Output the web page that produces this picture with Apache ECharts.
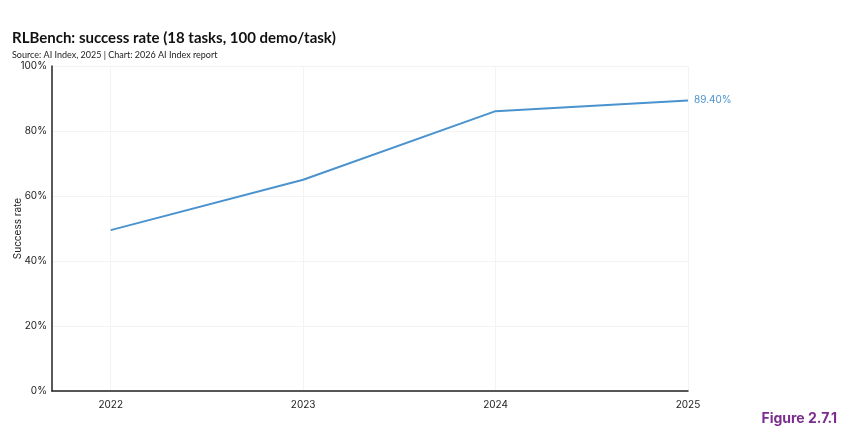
<!DOCTYPE html>
<html>
<head>
<meta charset="utf-8">
<script src="https://cdn.jsdelivr.net/npm/echarts@6/dist/echarts.min.js"></script>
<style>
  html, body { margin: 0; padding: 0; background: #fff; }
  #chart { width: 850px; height: 440px; }
</style>
</head>
<body>
<div id="chart"></div>
<script>
// data
var years = [2022, 2023, 2024, 2025]
var successRate = [49.5, 65, 86.1, 89.4]

var chart = echarts.init(document.getElementById('chart'))
var blue = '#4a93cf'
var font = 'Inter, "Noto Sans", sans-serif'
var titleFont = 'Lato, Inter, sans-serif'

chart.setOption({
    animation: false,
    textStyle: { fontFamily: font },
    title: [
        {
            text: 'RLBench: success rate (18 tasks, 100 demo/task)',
            left: 7, top: 26,
            textStyle: { fontSize: 15, fontWeight: 'bold', color: '#111', fontFamily: titleFont }
        },
        {
            text: 'Source: AI Index, 2025 | Chart: 2026 AI Index report',
            left: 7, top: 46,
            textStyle: { fontSize: 9, fontWeight: 'normal', color: '#222', fontFamily: titleFont }
        },
        {
            text: 'Figure 2.7.1',
            right: 8, top: 407,
            textStyle: { fontSize: 14, fontWeight: 'bold', color: '#7a2d8c', fontFamily: font }
        }
    ],
    grid: { left: 52, right: 162, top: 66, bottom: 49, outerBoundsMode: 'none', containLabel: false },
    xAxis: {
        type: 'value',
        min: 2021.695,
        max: 2025,
        axisLine: { show: true, lineStyle: { color: '#222', width: 1.5 } },
        axisTick: { show: false, customValues: years },
        axisLabel: {
            customValues: years,
            color: '#222', fontSize: 10, margin: 9,
            formatter: function (v) { return String(v) }
        },
        splitLine: { show: true, lineStyle: { color: '#f3f3f3' } }
    },
    yAxis: {
        type: 'value',
        min: 0, max: 100, interval: 20,
        name: 'Success rate',
        nameLocation: 'middle',
        nameGap: 29,
        nameMoveOverlap: false,
        nameTextStyle: { fontSize: 10, color: '#222' },
        axisLine: { show: true, lineStyle: { color: '#222', width: 1.5 } },
        axisTick: { show: false },
        axisLabel: { color: '#222', fontSize: 10, margin: 5, formatter: '{value}%' },
        splitLine: { show: true, lineStyle: { color: '#f3f3f3' } }
    },
    series: [{
        type: 'line',
        data: years.map(function (y, i) { return [y, successRate[i]] }),
        showSymbol: false,
        lineStyle: { color: blue, width: 2 },
        itemStyle: { color: blue },
        endLabel: {
            show: true,
            color: blue,
            fontSize: 10,
            distance: 6,
            formatter: function (p) { return p.value[1].toFixed(2) + '%' }
        }
    }]
})
</script>
</body>
</html>
